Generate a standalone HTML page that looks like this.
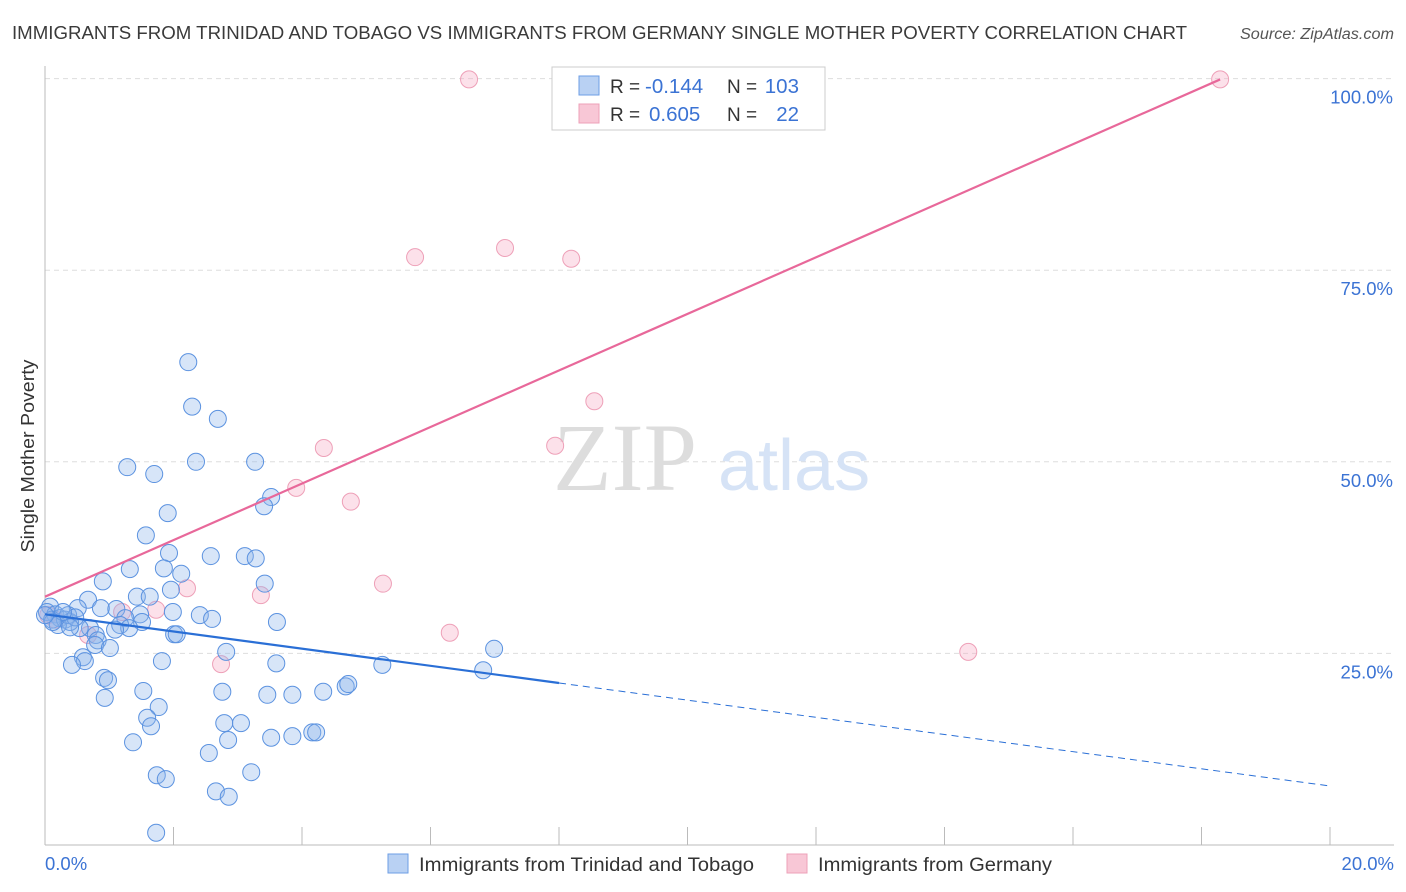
<!DOCTYPE html>
<html><head><meta charset="utf-8"><style>
body{margin:0;background:#fff;font-family:"Liberation Sans",sans-serif;}
#c{position:relative;width:1406px;height:892px;overflow:hidden}
</style></head><body><div id="c">
<svg id="s" width="1406" height="892"></svg>
</div>
<script>
const blueX=[2.23,2.29,2.69,1.28,1.70,2.35,3.27,3.52,3.41,1.91,1.57,1.93,2.58,3.11,3.28,1.32,1.85,2.12,0.90,3.42,1.96,1.43,1.63,0.67,0.51,0.87,1.11,1.48,1.99,2.41,2.60,3.61,1.51,1.25,1.17,1.31,1.09,0.70,0.54,0.79,0.82,2.01,2.05,0.78,1.01,0.59,0.62,0.42,1.82,2.82,3.60,5.25,6.99,6.82,0.92,0.98,0.93,1.53,2.76,3.46,3.85,4.33,4.68,4.72,1.77,1.59,1.65,2.79,3.05,1.37,2.85,3.52,3.85,4.16,4.22,2.55,3.21,1.74,1.88,2.66,2.86,1.73,0.08,0.03,0.16,0.23,0.11,0.31,0.39,0.2,0.36,0.47,0.28,0.12,0,0.39];
const blueY=[63.0,57.2,55.6,49.3,48.4,50.0,50.0,45.4,44.2,43.3,40.4,38.1,37.7,37.7,37.4,36.0,36.1,35.4,34.4,34.1,33.3,32.4,32.4,32.0,30.9,30.9,30.8,30.1,30.4,30.0,29.5,29.1,29.1,29.6,28.7,28.3,28.1,28.3,28.3,27.4,26.7,27.5,27.5,26.1,25.7,24.5,24.0,23.5,24.0,25.2,23.7,23.5,25.6,22.8,21.8,21.5,19.2,20.1,20.0,19.6,19.6,20.0,20.7,21.0,18.0,16.6,15.5,15.9,15.9,13.4,13.7,14.0,14.2,14.7,14.7,12.0,9.5,9.1,8.6,7.0,6.3,1.6,31.1,30.4,30.1,29.6,29.4,29.4,29.1,28.7,30.0,29.7,30.4,29.1,30.0,28.4];
const pinkX=[6.60,10.41,18.29,7.16,5.76,8.19,8.55,7.94,4.34,3.91,4.76,5.26,2.21,3.36,1.73,1.20,6.30,14.37,2.74,0.05,0.16,0.67];
const pinkY=[99.9,99.9,99.9,77.9,76.7,76.5,57.9,52.1,51.8,46.6,44.8,34.1,33.5,32.6,30.7,30.4,27.7,25.2,23.6,30.0,29.4,27.4];
const yTicks=[25,50,75,100];
const yTickLabels=["25.0%","50.0%","75.0%","100.0%"];
const xTicks=[0,2,4,6,8,10,12,14,16,18,20];
const blueTrend=[30.1,-1.12];
const pinkTrend=[32.4,3.69];
const X=v=>45+v*64.25, Y=v=>845-v*7.664;
const s=document.getElementById('s');const NS="http://www.w3.org/2000/svg";
function el(t,a,txt){const e=document.createElementNS(NS,t);for(const k in a)e.setAttribute(k,a[k]);if(txt!==undefined)e.textContent=txt;s.appendChild(e);return e;}
let e;
e=el('text',{x:12,y:39,'font-size':18,fill:'#3a3a3a',textLength:1175,lengthAdjust:'spacingAndGlyphs'},'IMMIGRANTS FROM TRINIDAD AND TOBAGO VS IMMIGRANTS FROM GERMANY SINGLE MOTHER POVERTY CORRELATION CHART');


e=el('text',{x:1240,y:39,'font-size':15.5,fill:'#555','font-style':'italic',textLength:154,lengthAdjust:'spacingAndGlyphs'},'Source: ZipAtlas.com');


yTicks.forEach((t,i)=>{
 e=el('line',{x1:45,x2:1394,y1:Y(t),y2:Y(t),stroke:'#ddd','stroke-dasharray':'5,4'});
 
 
 e=el('text',{x:1393,y:Y(t)+25,'font-size':18.5,fill:'#3b73d4','text-anchor':'end'},yTickLabels[i]);
 
 
});
e=el('line',{x1:45,x2:45,y1:66,y2:845,stroke:'#bbb'});


e=el('line',{x1:45,x2:1394,y1:845,y2:845,stroke:'#bbb'});


xTicks.forEach(t=>{e=el('line',{x1:X(t),x2:X(t),y1:827,y2:845,stroke:'#bbb'});
 
 });
e=el('text',{x:45,y:870,'font-size':18.5,fill:'#3b73d4'},'0.0%');


e=el('text',{x:1394,y:870,'font-size':18.5,fill:'#3b73d4','text-anchor':'end'},'20.0%');


e=el('text',{x:34,y:456,'font-size':18,fill:'#333','text-anchor':'middle',transform:'rotate(-90 34 456)',textLength:193,lengthAdjust:'spacingAndGlyphs'},'Single Mother Poverty');


e=el('text',{x:553,y:490,'font-size':96,fill:'#ddd','font-family':'Liberation Serif,serif'},'ZIP');


e=el('text',{x:718,y:490,'font-size':72,fill:'#d6e3f6'},'atlas');


pinkX.forEach((x,i)=>{e=el('circle',{cx:X(x),cy:Y(pinkY[i]),r:8.5,fill:'rgba(246,170,195,0.35)',stroke:'#eea0b8','stroke-width':1});
 
 });
blueX.forEach((x,i)=>{e=el('circle',{cx:X(x),cy:Y(blueY[i]),r:8.5,fill:'rgba(140,180,235,0.35)',stroke:'#5b92e0','stroke-width':1});
 
 });
e=el('line',{x1:X(0),y1:Y(pinkTrend[0]),x2:X(18.29),y2:Y(pinkTrend[0]+pinkTrend[1]*18.29),stroke:'#e8689a','stroke-width':2.2});


e=el('line',{x1:X(0),y1:Y(blueTrend[0]),x2:X(8),y2:Y(blueTrend[0]+blueTrend[1]*8),stroke:'#2a6fd6','stroke-width':2.2});


e=el('line',{x1:X(8),y1:Y(blueTrend[0]+blueTrend[1]*8),x2:X(20),y2:Y(blueTrend[0]+blueTrend[1]*20),stroke:'#2a6fd6','stroke-width':1,'stroke-dasharray':'7,5'});


e=el('rect',{x:552,y:67,width:273,height:63,fill:'#fff',stroke:'#ccc'});


e=el('rect',{x:579,y:76,width:20,height:19,fill:'#b9d1f3',stroke:'#6d9ee4'});


e=el('rect',{x:579,y:104,width:20,height:19,fill:'#f8c7d6',stroke:'#eea0b8'});


[[93,'-0.144','103',645],[121,'0.605','22',649]].forEach((r,i)=>{
 e=el('text',{x:610,y:r[0],'font-size':19,fill:'#333'},'R =');
 
 
 e=el('text',{x:r[3],y:r[0],'font-size':20.5,fill:'#3b73d4'},r[1]);
 
 
 e=el('text',{x:727,y:r[0],'font-size':19,fill:'#333'},'N =');
 
 
 e=el('text',{x:799,y:r[0],'font-size':20.5,fill:'#3b73d4','text-anchor':'end'},r[2]);
 
 
});
e=el('rect',{x:388,y:854,width:20,height:19,fill:'#b9d1f3',stroke:'#6d9ee4'});


e=el('text',{x:419,y:871,'font-size':19.5,fill:'#333',textLength:335,lengthAdjust:'spacingAndGlyphs'},'Immigrants from Trinidad and Tobago');


e=el('rect',{x:787,y:854,width:20,height:19,fill:'#f8c7d6',stroke:'#eea0b8'});


e=el('text',{x:818,y:871,'font-size':19.5,fill:'#333',textLength:234,lengthAdjust:'spacingAndGlyphs'},'Immigrants from Germany');


</script></body></html>
